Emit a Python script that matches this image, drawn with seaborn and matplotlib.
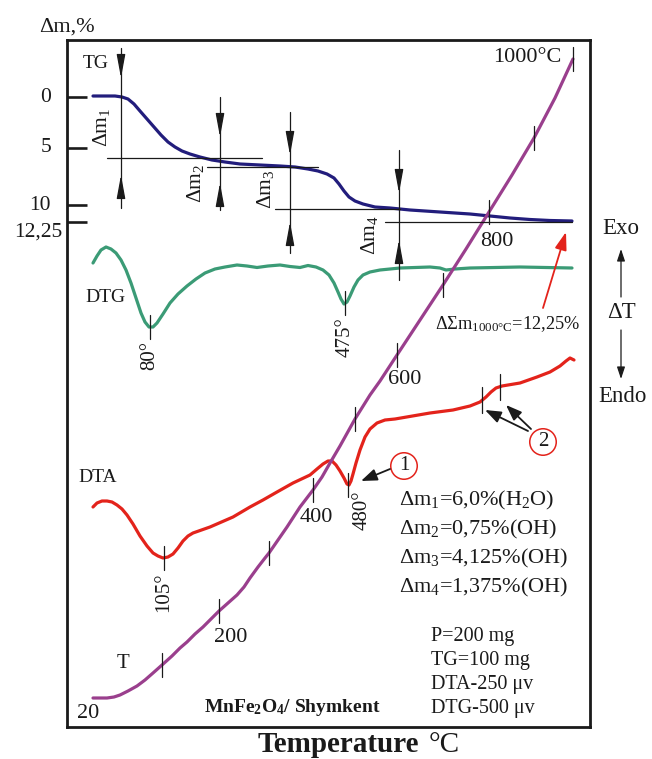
import numpy as np
import matplotlib
matplotlib.use("Agg")
import matplotlib.pyplot as plt
import seaborn as sns
import pandas as pd

# ---------------- data (chart coordinates: x = time axis, y = signal position) ----------------
tg_x = [93, 105, 115, 122, 128, 134, 140, 147, 154, 161, 168, 175, 182, 190, 200, 212, 225, 240, 260,
        280, 295, 308, 318, 327, 334, 339, 344, 349, 355, 363, 375, 390, 410, 440, 470, 490, 510, 530,
        550, 572]
tg_y = [96, 96, 96, 97, 99, 104, 111, 119, 127, 135, 142, 147, 151, 154, 157, 160, 162, 164, 165,
        166, 167, 169, 171, 174, 178, 184, 191, 197, 201, 204, 207, 208, 210, 212, 214, 216, 218, 219.5,
        220.5, 221]

dtg_x = [93, 97, 101, 106, 111, 116, 121, 126, 131, 136, 141, 145, 149, 153, 157, 163, 170, 178, 187,
         196, 205, 215, 225, 237, 247, 257, 268, 280, 290, 300, 308, 316, 323, 329, 334, 338, 341, 344,
         347, 350, 354, 358, 363, 370, 380, 400, 430, 440, 446, 455, 470, 520, 572]
dtg_y = [263, 256, 250, 247, 249, 253, 260, 270, 283, 298, 313, 322, 327, 327, 323, 314, 303, 294, 286,
         279, 273, 269, 267, 265, 266, 267.5, 266, 265, 266.5, 267.5, 265.5, 267, 270, 275, 283, 292, 299,
         304, 302, 296, 287, 280, 275, 272, 270, 268, 267, 268, 270, 269, 268, 267, 268]

dta_x = [93, 97, 102, 107, 112, 117, 122, 127, 133, 140, 147, 153, 158, 163, 168, 173, 178, 183, 188,
         193, 210, 233, 250, 263, 277, 293, 310, 317, 323, 328, 332, 336, 340, 344, 347, 349, 351, 353,
         356, 360, 365, 370, 377, 385, 395, 430, 453, 470, 480, 486, 491, 496, 502, 520, 537, 550, 560,
         566, 570, 574]
dta_y = [507, 503, 501, 501, 502, 505, 509, 515, 524, 536, 546, 553, 556, 558, 557, 554, 548, 541, 536,
         533, 527, 517, 507, 500, 492, 483, 475, 469, 464, 461, 461, 465, 471, 478, 484, 485, 481, 474,
         463, 450, 437, 429, 423, 420, 419, 413, 410, 406, 402, 397, 392, 388, 386, 383, 377, 372, 366,
         361, 358, 360]

t_x = [93, 100, 107, 114, 120, 128, 137, 145, 153, 162, 172, 180, 187, 195, 203, 211, 219, 228, 237,
       244, 250, 258, 265, 269, 278, 287, 300, 313, 322, 330, 340, 355, 370, 380, 397, 420, 443, 466,
       489, 512, 534, 555, 573]
t_y = [698, 698, 698, 697, 695, 691, 686, 680, 673, 665, 656, 648, 642, 634, 627, 619, 611, 603, 595,
       587, 578, 567, 558, 553, 540, 527, 507, 490, 477, 463, 446, 419, 395, 381, 355, 320, 285, 249,
       212, 175, 138, 98, 59]

# temperature marks on the T curve (every 100 °C)
t_mark_temp = [100, 200, 300, 400, 500, 600, 700, 800, 900, 1000]
t_mark_x = [162, 219, 269, 313, 355, 397, 443, 489, 534, 573]

# left axis (Δm, %)
dm_tick_pos = [97, 148, 205, 222]
dm_tick_lab = ["0", "5", "10", "12,25"]
dm_lab_pos = [(51, 97), (51, 148), (51, 205), (62, 232)]

# mass-loss steps
step_y = [158, 167, 209, 222]
step_x0 = [107, 207, 275, 385]
step_x1 = [262, 318, 400, 572]
marker_x = [121, 220, 290, 399]
marker_top = [48, 97, 112, 150]
marker_bot = [208, 210, 253, 280]
marker_down_tip = [78, 137, 155, 193]
marker_up_tip = [175, 183, 222, 240]
marker_lab = ["Δm$_1$", "Δm$_2$", "Δm$_3$", "Δm$_4$"]
marker_lab_pos = [(101, 127), (195, 183), (265, 189), (370, 235)]

# peak marks
dtg_peak_x = [150, 345]
dtg_peak_lab = ["80°", "475°"]
dta_peak_x = [164, 348]
dta_peak_lab = ["105°", "480°"]
dta_mark2_x = [482, 500]

dm_values = ["Δm$_1$=6,0%(H$_2$O)", "Δm$_2$=0,75%(OH)", "Δm$_3$=4,125%(OH)", "Δm$_4$=1,375%(OH)"]
cond_text = ["P=200 mg", "TG=100 mg", "DTA-250 μv", "DTG-500 μv"]

# ---------------- style ----------------
sns.set_theme(style="white")
plt.rcParams["font.family"] = ["Liberation Serif", "DejaVu Serif"]
plt.rcParams["mathtext.fontset"] = "custom"
plt.rcParams["mathtext.rm"] = "Liberation Serif"
plt.rcParams["mathtext.it"] = "Liberation Serif:italic"
plt.rcParams["mathtext.bf"] = "Liberation Serif:bold"
plt.rcParams["mathtext.default"] = "rm"

C_TG = "#221d7c"
C_DTG = "#3b9b76"
C_DTA = "#e3231b"
C_T = "#9a3f8d"
INK = "#1a1a1a"

W, H = 652, 759
L, R, T, B = 67, 590, 40, 727
fig = plt.figure(figsize=(W / 100, H / 100), dpi=100)
ax = fig.add_axes([L / W, 1 - B / H, (R - L) / W, (B - T) / H])
ax.set_xlim(L, R)
ax.set_ylim(B, T)
for s in ax.spines.values():
    s.set_linewidth(2.0)
    s.set_color(INK)
ax.set_xticks([])
ax.set_yticks(dm_tick_pos)
ax.set_yticklabels([])
ax.tick_params(axis="y", direction="in", length=14.5, width=1.9, color=INK, left=True)
ax.grid(False)

def curve(xs, ys, color):
    df = pd.DataFrame({"x": xs, "y": ys})
    sns.lineplot(data=df, x="x", y="y", sort=False, estimator=None, color=color,
                 linewidth=2.3, ax=ax, solid_capstyle="round", solid_joinstyle="round")

curve(tg_x, tg_y, C_TG)
curve(dtg_x, dtg_y, C_DTG)
curve(dta_x, dta_y, C_DTA)
curve(t_x, t_y, C_T)
ax.set_xlabel("")
ax.set_ylabel("")

thin = dict(color=INK, lw=0.9)

# left axis labels
for (px, py), lab in zip(dm_lab_pos, dm_tick_lab):
    ax.text(px, py, lab, ha="right", va="center", fontsize=15.5, color=INK, clip_on=False)
ax.text(67, 27, "Δm,%", ha="center", va="center", fontsize=16, color=INK, clip_on=False)

# mass-loss construction
for y, x0, x1 in zip(step_y, step_x0, step_x1):
    ax.plot([x0, x1], [y, y], **thin)
arrow_style = "-|>,head_length=1.2,head_width=0.22"
for x, yt, yb, dt, ut in zip(marker_x, marker_top, marker_bot, marker_down_tip, marker_up_tip):
    ax.plot([x, x], [yt, yb], **thin)
    ax.annotate("", xy=(x, dt), xytext=(x, dt - 18),
                arrowprops=dict(arrowstyle=arrow_style, color=INK, lw=0.9, shrinkA=0, shrinkB=0))
    ax.annotate("", xy=(x, ut), xytext=(x, ut + 18),
                arrowprops=dict(arrowstyle=arrow_style, color=INK, lw=0.9, shrinkA=0, shrinkB=0))
for lab, (lx, ly) in zip(marker_lab, marker_lab_pos):
    ax.text(lx, ly, lab, rotation=90, ha="center", va="center", fontsize=15.5, color=INK)

# T marks
for x in t_mark_x:
    y = np.interp(x, t_x, t_y)
    ax.plot([x, x], [y - 12, y + 12], **thin)

# DTG peaks
for x, lab in zip(dtg_peak_x, dtg_peak_lab):
    y = np.interp(x, dtg_x, dtg_y)
    ax.plot([x, x], [y - 12, y + 12], **thin)
    ax.text(x, y + 14, lab, rotation=90, ha="center", va="top", fontsize=15, color=INK)

# DTA peaks
for x in dta_peak_x:
    y = np.interp(x, dta_x, dta_y)
    ax.plot([x, x], [y - 12, y + 12], **thin)
for x in dta_mark2_x:
    y = np.interp(x, dta_x, dta_y)
    ax.plot([x, x], [y - 13, y + 13], **thin)
ax.text(164, 572, dta_peak_lab[0], rotation=90, ha="center", va="top", fontsize=15, color=INK)
ax.text(362, 490, dta_peak_lab[1], rotation=90, ha="center", va="top", fontsize=15, color=INK)

# curve labels
ax.text(96, 64, "TG", ha="center", va="center", fontsize=14, color=INK)
ax.text(105, 298, "DTG", ha="center", va="center", fontsize=14, color=INK)
ax.text(98, 478, "DTA", ha="center", va="center", fontsize=14, color=INK)
ax.text(123, 664, "T", ha="center", va="center", fontsize=15, color=INK)

# temperature labels
ax.text(88, 713, "20", ha="center", va="center", fontsize=16, color=INK)
ax.text(231, 638, "200", ha="center", va="center", fontsize=16, color=INK)
ax.text(316, 517, "400", ha="center", va="center", fontsize=16, color=INK)
ax.text(405, 380, "600", ha="center", va="center", fontsize=16, color=INK)
ax.text(497, 242, "800", ha="center", va="center", fontsize=16, color=INK)
ax.text(561, 58, "1000°C", ha="right", va="center", fontsize=16, color=INK)

# total mass loss annotation
ax.text(435, 324, "ΔΣm$_{1000°C}$=12,25%", ha="left", va="center", fontsize=13.2, color=INK)
ax.annotate("", xy=(566, 232), xytext=(543, 308),
            arrowprops=dict(arrowstyle="-|>,head_length=0.9,head_width=0.3", color=C_DTA, lw=1.3,
                            shrinkA=0, shrinkB=0))

# circled markers
ax.text(404, 466, "1", ha="center", va="center", fontsize=15, color=INK,
        bbox=dict(boxstyle="circle,pad=0.18", fc="white", ec=C_DTA, lw=1.1))
ax.text(543, 442, "2", ha="center", va="center", fontsize=15, color=INK,
        bbox=dict(boxstyle="circle,pad=0.18", fc="white", ec=C_DTA, lw=1.1))
blk = dict(arrowstyle="-|>,head_length=0.8,head_width=0.3", color=INK, lw=1.3, shrinkA=0, shrinkB=0)
ax.annotate("", xy=(361, 481), xytext=(390, 469), arrowprops=blk)
ax.annotate("", xy=(485, 410), xytext=(528, 431), arrowprops=blk)
ax.annotate("", xy=(506, 405), xytext=(531, 429), arrowprops=blk)

# Δm text block
for i, s in enumerate(dm_values):
    ax.text(399, 500 + i * 29, s, ha="left", va="center", fontsize=16, color=INK)
for i, s in enumerate(cond_text):
    ax.text(431, 637 + i * 24, s, ha="left", va="center", fontsize=14.5, color=INK)

ax.text(292, 707, "MnFe$_\\mathbf{2}$O$_\\mathbf{4}$/ Shymkent", ha="center", va="center",
        fontsize=14, fontweight="bold", color=INK)

# outside: Exo / ΔT / Endo
ax.text(621, 229, "Exo", ha="center", va="center", fontsize=16.5, color=INK, clip_on=False)
ax.text(621, 313, "ΔT", ha="center", va="center", fontsize=16.5, color=INK, clip_on=False)
ax.text(622, 397, "Endo", ha="center", va="center", fontsize=16.5, color=INK, clip_on=False)
side = dict(arrowstyle="-|>,head_length=0.6,head_width=0.2", color=INK, lw=0.9, shrinkA=0, shrinkB=0)
ax.annotate("", xy=(621, 249), xytext=(621, 297), arrowprops=side, annotation_clip=False)
ax.annotate("", xy=(621, 379), xytext=(621, 330), arrowprops=side, annotation_clip=False)

# bottom title
ax.text(419, 752, "Temperature", ha="right", va="baseline", fontsize=21, fontweight="bold",
        color=INK, clip_on=False)
ax.text(429, 752, "°C", ha="left", va="baseline", fontsize=21, color=INK, clip_on=False)

fig.savefig("out.png", dpi=100)
